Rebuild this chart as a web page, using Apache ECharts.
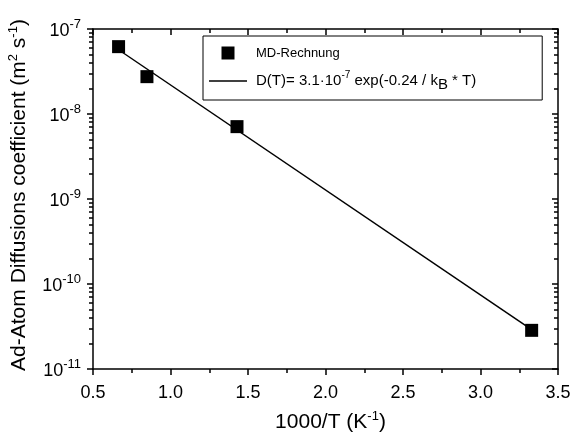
<!DOCTYPE html>
<html>
<head>
<meta charset="utf-8">
<script src="https://cdn.jsdelivr.net/npm/echarts@6/dist/echarts.min.js"></script>
<style>html,body{margin:0;padding:0;background:#fff;}#c{width:572px;height:436px;}</style>
</head>
<body>
<div id="c"></div>
<script>
// Data
const mdX = [0.665, 0.848, 1.429, 3.33];
const mdY = [6.2e-8, 2.75e-8, 7.1e-9, 2.85e-11];
const fitX = [0.665, 3.33];
const fitY = [5.7e-8, 2.9e-11];
// Axis settings
const xMin = 0.5, xMax = 3.5, xStep = 0.5;
const yMin = 1e-11, yMax = 1e-7;
const mdName = 'MD-Rechnung';
const fitName = 'D(T)= 3.1·10-7 exp(-0.24 / kB * T)';

const FONT = '"Liberation Sans", Arial, Helvetica, sans-serif';
const chart = echarts.init(document.getElementById('c'));

const axisLine = {show: true, onZero: false, lineStyle: {color: '#000', width: 1.5}};
const minorStyle = {color: '#000', width: 1.5};

chart.setOption({
  animation: false,
  backgroundColor: '#fff',
  textStyle: {fontFamily: FONT},
  grid: {left: 93, right: 14, top: 29, bottom: 67, containLabel: false, outerBoundsMode: 'none'},
  legend: {
    orient: 'vertical',
    left: 203, top: 36,
    padding: [6, 66, 8, 6],
    borderColor: '#000', borderWidth: 1,
    itemGap: 6,
    itemWidth: 38, itemHeight: 13,
    data: [
      {name: mdName, icon: 'path://M0,0H10V10H0Z', textStyle: {fontSize: 13}},
      {name: fitName, icon: 'path://M0,0H38V1.4H0Z'}
    ],
    formatter: function (n) {
      if (n === fitName) return 'D(T)= 3.1·10{sup|-7} exp(-0.24 / k{sub|B} * T)';
      return n;
    },
    textStyle: {
      fontFamily: FONT, fontSize: 15, color: '#000', padding: [0, 0, 0, 4], lineHeight: 22,
      rich: {
        sup: {fontFamily: FONT, fontSize: 10, color: '#000', verticalAlign: 'top', lineHeight: 10},
        sub: {fontFamily: FONT, fontSize: 15, color: '#000', verticalAlign: 'bottom', lineHeight: 12}
      }
    }
  },
  xAxis: [{
    type: 'value', min: xMin, max: xMax, interval: xStep, position: 'bottom',
    name: '1000/T (K{s|-1})', nameLocation: 'middle', nameGap: 41,
    nameTextStyle: {fontFamily: FONT, fontSize: 21, color: '#000', lineHeight: 24, padding: [0, 0, 0, 10],
      rich: {s: {fontFamily: FONT, fontSize: 13, color: '#000', verticalAlign: 'top', lineHeight: 13}}},
    axisLine: axisLine,
    axisTick: {show: true, inside: false, length: 6, lineStyle: {color: '#000', width: 1.5}},
    minorTick: {show: true, splitNumber: 2, length: 4, lineStyle: minorStyle},
    axisLabel: {fontFamily: FONT, fontSize: 18, color: '#000', margin: 15,
      formatter: v => v.toFixed(1)},
    splitLine: {show: false}
  }, {
    type: 'value', min: xMin, max: xMax, interval: xStep, position: 'top',
    axisLine: axisLine,
    axisTick: {show: true, inside: true, length: 6, lineStyle: {color: '#000', width: 1.5}},
    minorTick: {show: true, splitNumber: 2, length: 4, lineStyle: minorStyle},
    axisLabel: {show: false},
    splitLine: {show: false}
  }],
  yAxis: [{
    type: 'log', logBase: 10, min: yMin, max: yMax, position: 'left',
    name: 'Ad-Atom Diffusions coefficient (m{s|2} s{s|-1})', nameLocation: 'middle', nameGap: 61,
    nameRotate: 90,
    nameTextStyle: {fontFamily: FONT, fontSize: 21, color: '#000', lineHeight: 24, padding: [0, 0, 0, 8],
      rich: {s: {fontFamily: FONT, fontSize: 13, color: '#000', verticalAlign: 'top', lineHeight: 13}}},
    axisLine: axisLine,
    axisTick: {show: true, inside: false, length: 6, lineStyle: {color: '#000', width: 1.5}},
    minorTick: {show: true, splitNumber: 9, length: 4, lineStyle: minorStyle},
    axisLabel: {
      fontFamily: FONT, color: '#000', margin: 12,
      formatter: v => '{b|10}{s|' + Math.round(Math.log10(v)) + '}',
      rich: {
        b: {fontFamily: FONT, fontSize: 18, color: '#000', lineHeight: 22, verticalAlign: 'bottom'},
        s: {fontFamily: FONT, fontSize: 13, color: '#000', lineHeight: 12, verticalAlign: 'top'}
      }
    },
    splitLine: {show: false}
  }, {
    type: 'log', logBase: 10, min: yMin, max: yMax, position: 'right',
    axisLine: axisLine,
    axisTick: {show: true, inside: true, length: 6, lineStyle: {color: '#000', width: 1.5}},
    minorTick: {show: true, splitNumber: 9, length: 4, lineStyle: minorStyle},
    axisLabel: {show: false},
    splitLine: {show: false}
  }],
  series: [
    {
      name: fitName, type: 'line', xAxisIndex: 0, yAxisIndex: 0,
      data: fitX.map((x, i) => [x, fitY[i]]),
      symbol: 'none', showSymbol: false,
      lineStyle: {color: '#000', width: 1.5},
      itemStyle: {color: '#000'},
      z: 2
    },
    {
      name: mdName, type: 'scatter', xAxisIndex: 0, yAxisIndex: 0,
      data: mdX.map((x, i) => [x, mdY[i]]),
      symbol: 'rect', symbolSize: 13,
      itemStyle: {color: '#000', opacity: 1},
      z: 3
    }
  ]
});
</script>
</body>
</html>
